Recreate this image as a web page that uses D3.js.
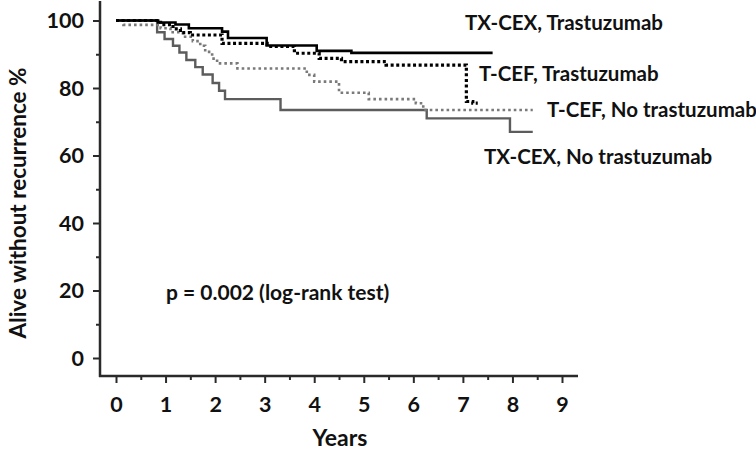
<!DOCTYPE html>
<html>
<head>
<meta charset="utf-8">
<script src="https://cdn.jsdelivr.net/npm/d3@7/dist/d3.min.js"></script>
<style>
  html, body { margin: 0; padding: 0; background: #fff; }
  svg { display: block; }
  text { font-family: Lato, "Open Sans", sans-serif; font-weight: 700; fill: #111; }
</style>
</head>
<body>
<svg id="chart" width="756" height="450"></svg>
<script>
// ---------- data ----------
const xTickValues = [0, 1, 2, 3, 4, 5, 6, 7, 8, 9];
const yTickValues = [0, 20, 40, 60, 80, 100];
const xLabel = "Years";
const yLabel = "Alive without recurrence %";
const pText = "p = 0.002 (log-rank test)";

// TX-CEX, Trastuzumab
const txcexTrastTimes  = [0, 0.85, 1.2, 1.47, 2.14, 2.26, 3.04, 4.05, 4.75, 7.6];
const txcexTrastValues = [100, 99.4, 98.8, 97.7, 96.7, 94.8, 92.6, 91.0, 90.4, 90.4];
// T-CEF, Trastuzumab
const tcefTrastTimes  = [0, 0.9, 1.15, 1.3, 1.5, 2.14, 3.05, 3.6, 4.1, 4.55, 5.45, 7.07, 7.2, 7.3];
const tcefTrastValues = [100, 98.8, 97.5, 96.4, 95.7, 93.2, 92.3, 90.3, 88.8, 87.8, 86.8, 76.0, 75.5, 75.5];
// T-CEF, No trastuzumab
const tcefNoTimes  = [0, 0.15, 0.9, 1.1, 1.35, 1.55, 1.7, 1.8, 1.94, 2.04, 2.45, 3.85, 4.0, 4.5, 5.1, 6.05, 6.2, 8.41];
const tcefNoValues = [100, 98.7, 97.7, 96.5, 95.2, 93.9, 92.5, 90.7, 88.7, 87.3, 85.8, 83.9, 81.9, 78.6, 76.7, 75.5, 73.5, 73.5];
// TX-CEX, No trastuzumab
const txcexNoTimes  = [0, 0.83, 0.98, 1.15, 1.28, 1.42, 1.6, 1.75, 1.95, 2.08, 2.2, 3.32, 6.27, 7.95, 8.41];
const txcexNoValues = [100, 96.5, 94.5, 92.5, 90.5, 88.3, 86.2, 84.0, 81.5, 79.2, 76.7, 73.5, 71.0, 67.0, 67.0];

const seriesNames = ["TX-CEX, Trastuzumab", "T-CEF, Trastuzumab", "T-CEF, No trastuzumab", "TX-CEX, No trastuzumab"];

// ---------- chart ----------
const svg = d3.select("#chart");
const x = d3.scaleLinear().domain([0, 9]).range([116, 562]);
const y = d3.scaleLinear().domain([0, 100]).range([358, 20.5]);

const axisColor = "#2a2a2a";
const axisX0 = 100, axisY0 = 376;

// Y axis
const yAxisG = svg.append("g").attr("transform", `translate(${axisX0},0)`);
yAxisG.call(d3.axisLeft(y).tickValues(yTickValues).tickSize(7).tickSizeOuter(0).tickPadding(9));
yAxisG.append("g").call(d3.axisLeft(y).tickValues([10, 30, 50, 70, 90]).tickSize(4).tickFormat(""));
yAxisG.selectAll(".domain").remove();
yAxisG.selectAll("line").attr("stroke", axisColor).attr("stroke-width", 2);
yAxisG.selectAll("text").style("font-size", "21.5px").attr("dy", "0.34em");
yAxisG.append("line").attr("x1", 0).attr("x2", 0).attr("y1", 1).attr("y2", axisY0 + 1)
  .attr("stroke", axisColor).attr("stroke-width", 2.5);

// X axis
const xAxisG = svg.append("g").attr("transform", `translate(0,${axisY0})`);
xAxisG.call(d3.axisBottom(x).tickValues(xTickValues).tickSize(7).tickSizeOuter(0).tickPadding(14));
xAxisG.append("g").call(d3.axisBottom(x).tickValues(d3.range(0.5, 9, 1)).tickSize(4).tickFormat(""));
xAxisG.selectAll(".domain").remove();
xAxisG.selectAll("line").attr("stroke", axisColor).attr("stroke-width", 2);
xAxisG.selectAll("text").style("font-size", "21.5px");
xAxisG.append("line").attr("x1", axisX0 - 1).attr("x2", 578).attr("y1", 0).attr("y2", 0)
  .attr("stroke", axisColor).attr("stroke-width", 2.5);

// axis titles
svg.append("text").attr("x", 340).attr("y", 446).attr("text-anchor", "middle")
  .style("font-size", "23px").text(xLabel);
svg.append("text").attr("transform", "translate(26,203) rotate(-90)").attr("text-anchor", "middle")
  .style("font-size", "22.5px").text(yLabel);

// curves
const line = d3.line().x(d => x(d[0])).y(d => y(d[1])).curve(d3.curveStepAfter);
const series = [
  { t: txcexNoTimes, v: txcexNoValues, color: "#5c5c5c", width: 2.4, dash: null },
  { t: tcefNoTimes, v: tcefNoValues, color: "#7a7a7a", width: 2.6, dash: "2.6,3" },
  { t: tcefTrastTimes, v: tcefTrastValues, color: "#000", width: 3.2, dash: "3,2.6" },
  { t: txcexTrastTimes, v: txcexTrastValues, color: "#000", width: 2.6, dash: null },
];
series.forEach(s => {
  const pts = s.t.map((t, i) => [t, s.v[i]]);
  svg.append("path").attr("d", line(pts)).attr("fill", "none")
    .attr("stroke", s.color).attr("stroke-width", s.width)
    .attr("stroke-dasharray", s.dash);
});

// labels
const labelPos = [[465, 30], [479, 81], [547, 117], [484, 164]];
seriesNames.forEach((n, i) => {
  svg.append("text").attr("x", labelPos[i][0]).attr("y", labelPos[i][1])
    .style("font-size", "20.5px").text(n);
});
svg.append("text").attr("x", 166).attr("y", 300).style("font-size", "21px").text(pText);
</script>
</body>
</html>
